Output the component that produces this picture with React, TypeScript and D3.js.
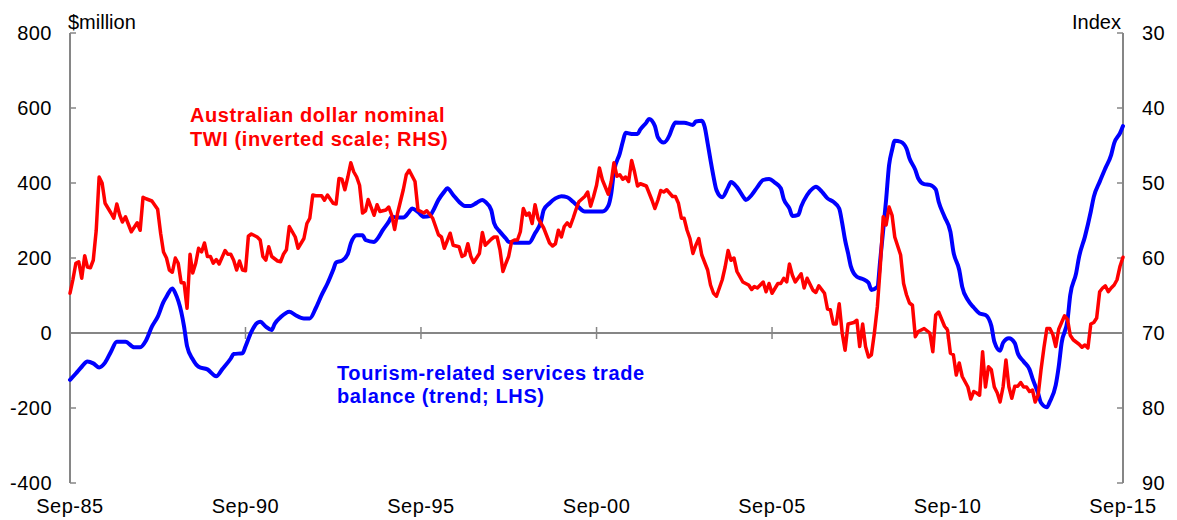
import React from "react";
import * as d3 from "d3";

// Months are counted from September 1985 (month 0) to September 2015 (month 360)
const START_YEAR = 1985;
const START_MONTH = 8;

// Tourism-related services trade balance (trend; LHS, $million)
const tourismMonths = [
  0, 2, 4, 6, 8, 10, 12, 14, 16, 19, 22, 24, 26, 28, 30, 32, 33, 35, 36, 38, 39, 40, 42, 44, 47, 50, 52, 55, 56, 59,
  60, 62, 64, 65, 67, 69, 70, 72, 75, 77, 80, 82, 84, 86, 88, 90, 91, 93, 95, 96, 98, 100, 101, 104, 105, 107, 109,
  110, 112, 114, 116, 117, 119, 121, 123, 124, 126, 128, 129, 131, 133, 135, 137, 139, 141, 142, 144, 145, 147, 149,
  150, 152, 157, 159, 161, 162, 164, 166, 168, 170, 172, 174, 176, 182, 184, 185, 186, 188, 189, 190, 192, 194, 195,
  197, 198, 200, 201, 203, 205, 206, 207, 210, 213, 214, 216, 217, 218, 219, 220, 221, 223, 225, 226, 228, 230, 231,
  233, 235, 237, 239, 241, 243, 244, 246, 247, 249, 250, 252, 254, 255, 257, 259, 261, 263, 264, 265, 266, 267, 269,
  271, 273, 274, 276, 277, 278, 279, 280, 281, 282, 284, 286, 287, 289, 290, 292, 294, 296, 297, 299, 301, 302, 304,
  305, 307, 309, 311, 313, 315, 316, 318, 319, 321, 323, 324, 326, 328, 329, 331, 332, 334, 335, 337, 338, 339, 341,
  342, 344, 345, 347, 349, 350, 352, 354, 356, 357, 359, 360,
];
const tourismValues = [
  -125, -108, -90, -76, -81, -92, -79, -50, -23, -23, -38, -38, -20, 17, 43, 83, 97, 119, 106, 57, 17, -35, -70, -90,
  -97, -115, -97, -68, -56, -54, -36, 3, 27, 30, 17, 8, 24, 42, 57, 48, 39, 39, 66, 101, 132, 168, 188, 193, 211, 239,
  261, 261, 248, 243, 250, 275, 297, 310, 308, 308, 323, 332, 323, 310, 312, 324, 355, 377, 386, 368, 350, 339, 339,
  347, 355, 350, 328, 293, 270, 252, 243, 241, 241, 266, 297, 328, 346, 359, 365, 362, 350, 335, 324, 324, 339, 372,
  430, 479, 510, 534, 531, 531, 543, 561, 571, 552, 522, 508, 528, 549, 561, 561, 555, 564, 566, 550, 506, 461, 417,
  381, 362, 389, 403, 389, 365, 355, 368, 389, 408, 411, 401, 386, 357, 332, 312, 315, 337, 368, 386, 390, 377, 359,
  350, 332, 293, 248, 213, 177, 150, 144, 134, 115, 123, 195, 275, 355, 448, 488, 513, 510, 492, 466, 435, 412, 397,
  395, 383, 350, 310, 270, 217, 168, 123, 88, 68, 52, 48, 19, -23, -47, -26, -14, -27, -54, -76, -97, -121, -161, -186,
  -198, -183, -139, -90, -27, 35, 101, 159, 203, 257, 324, 363, 403, 439, 475, 506, 533, 552,
];

// Australian dollar nominal TWI (index, plotted on inverted RHS)
const twiMonths = [
  0, 1, 2, 3, 4, 5, 6, 7, 8, 9, 10, 11, 12, 14, 15, 16, 17, 18, 19, 21, 23, 24, 25, 26, 28, 30, 31, 32, 33, 34, 35, 36,
  37, 38, 39, 40, 41, 42, 43, 44, 45, 46, 47, 48, 49, 50, 51, 53, 54, 55, 56, 57, 58, 59, 60, 61, 62, 64, 65, 66, 67,
  68, 69, 71, 72, 73, 74, 75, 77, 78, 80, 81, 82, 83, 84, 86, 87, 88, 90, 91, 92, 93, 94, 95, 96, 97, 98, 99, 100, 101,
  102, 104, 105, 106, 108, 109, 110, 111, 112, 114, 115, 116, 118, 119, 121, 122, 124, 126, 127, 128, 130, 131, 133,
  134, 135, 136, 137, 138, 140, 141, 142, 144, 145, 146, 147, 148, 149, 150, 151, 152, 153, 154, 155, 156, 157, 158,
  159, 160, 162, 164, 165, 166, 167, 168, 169, 170, 171, 172, 173, 174, 176, 177, 178, 179, 180, 181, 182, 184, 185,
  186, 187, 188, 189, 190, 191, 192, 193, 194, 195, 197, 198, 199, 200, 201, 202, 203, 204, 206, 207, 208, 209, 210,
  211, 212, 213, 214, 215, 216, 218, 219, 220, 221, 223, 224, 225, 226, 227, 228, 230, 231, 232, 233, 234, 235, 237,
  238, 239, 240, 242, 243, 244, 245, 246, 247, 248, 250, 251, 252, 254, 255, 256, 258, 259, 260, 261, 262, 263, 264,
  265, 266, 268, 269, 270, 271, 272, 273, 274, 275, 276, 277, 278, 279, 280, 281, 282, 284, 285, 286, 287, 288, 289,
  290, 292, 294, 295, 296, 297, 299, 300, 301, 302, 303, 304, 305, 307, 308, 309, 310, 311, 312, 313, 314, 315, 316,
  317, 318, 319, 320, 321, 322, 323, 324, 325, 326, 327, 328, 329, 330, 331, 332, 333, 334, 335, 336, 337, 338, 339,
  340, 341, 342, 343, 344, 345, 346, 347, 348, 349, 350, 351, 352, 353, 354, 355, 356, 357, 358, 359, 360,
];
const twiValues = [
  64.7, 62.9, 60.7, 60.5, 62.7, 59.7, 61.2, 61.3, 60.3, 56.3, 49.2, 50.0, 52.7, 54.0, 54.7, 52.8, 54.3, 55.2, 54.5,
  56.5, 55.3, 56.3, 51.9, 52.1, 52.4, 53.5, 56.7, 59.2, 60.0, 61.6, 61.9, 60.0, 60.7, 63.3, 63.3, 66.7, 59.5, 62.0,
  60.7, 58.7, 59.2, 58.0, 59.8, 59.8, 60.7, 60.2, 60.8, 59.0, 59.5, 59.5, 60.3, 61.6, 60.4, 61.6, 61.7, 57.1, 56.8,
  57.2, 57.6, 59.8, 60.3, 58.5, 59.8, 60.4, 60.5, 59.5, 58.9, 55.8, 57.2, 58.7, 57.4, 55.4, 54.7, 51.6, 51.7, 51.7,
  52.3, 51.6, 52.7, 52.8, 49.4, 49.5, 50.9, 49.2, 47.3, 48.5, 49.2, 50.3, 54.0, 53.7, 52.2, 54.3, 52.9, 53.8, 53.6,
  53.2, 54.3, 56.2, 54.0, 50.9, 48.9, 48.3, 49.8, 53.6, 54.0, 53.7, 54.7, 56.9, 57.2, 58.7, 56.7, 58.3, 58.5, 59.8,
  59.6, 58.1, 59.8, 60.6, 59.4, 56.6, 58.3, 57.5, 57.2, 57.2, 58.9, 61.8, 60.7, 59.8, 57.8, 57.6, 57.6, 56.5, 53.4,
  54.3, 54.0, 55.4, 52.9, 54.7, 56.0, 58.0, 58.4, 58.1, 56.3, 57.2, 55.8, 55.3, 55.8, 54.7, 53.5, 52.5, 51.8, 51.2,
  53.1, 51.8, 50.3, 48.0, 49.6, 51.5, 49.8, 47.3, 49.1, 48.9, 49.5, 49.2, 49.8, 47.0, 48.5, 50.4, 50.1, 50.4, 51.3,
  52.3, 53.4, 52.3, 51.0, 51.2, 50.9, 51.8, 51.8, 52.7, 54.7, 54.7, 56.3, 57.4, 59.4, 58.3, 57.4, 59.6, 61.6, 63.6,
  64.7, 65.1, 62.9, 61.2, 59.0, 60.3, 60.0, 61.8, 63.2, 63.4, 63.6, 64.2, 63.8, 64.0, 63.2, 64.5, 63.4, 64.7, 63.4,
  63.4, 62.7, 63.2, 60.8, 62.3, 63.2, 62.1, 64.0, 62.7, 64.3, 64.6, 63.7, 64.7, 66.8, 66.9, 68.8, 68.8, 66.1, 70.0,
  72.3, 68.8, 68.6, 68.3, 71.8, 68.8, 71.8, 73.2, 72.9, 70.0, 66.5, 61.2, 54.5, 55.6, 53.2, 54.3, 57.2, 59.6, 63.4,
  64.9, 66.0, 66.3, 70.5, 69.8, 69.4, 70.0, 72.5, 67.6, 67.2, 69.1, 69.6, 72.7, 72.9, 75.6, 74.0, 75.8, 77.2, 78.8,
  77.8, 78.0, 78.3, 72.5, 77.2, 74.5, 74.9, 77.2, 78.0, 79.2, 77.2, 73.6, 77.2, 78.7, 77.1, 77.1, 76.6, 77.2, 77.2,
  77.8, 77.6, 79.2, 78.3, 74.9, 71.9, 69.4, 69.4, 70.2, 71.8, 69.5, 68.6, 67.7, 68.2, 70.3, 70.9, 71.2, 71.5, 71.9,
  71.6, 72.0, 68.8, 68.6, 68.0, 64.5, 64.0, 63.7, 64.5, 64.0, 63.6, 62.9, 61.1, 59.9,
];

const leftTicks = [-400, -200, 0, 200, 400, 600, 800];
const rightTicks = [30, 40, 50, 60, 70, 80, 90];
const xTickYears = [1985, 1990, 1995, 2000, 2005, 2010, 2015];

const W = 1177;
const H = 520;
const X0 = 70;
const X1 = 1123;
const YT = 33;
const YB = 483;
const FONT = "'Liberation Sans', Arial, sans-serif";
const AXIS = "#868686";

const toDate = (m: number) => new Date(START_YEAR, START_MONTH + m, 1);

export default function App() {
  const x = d3.scaleTime().domain([toDate(0), toDate(360)]).range([X0, X1]);
  const yL = d3.scaleLinear().domain([-400, 800]).range([YB, YT]);
  const yR = d3.scaleLinear().domain([90, 30]).range([YB, YT]);
  const fmt = d3.timeFormat("%b-%y");

  const tourism = tourismMonths.map((m, i) => ({ d: toDate(m), v: tourismValues[i] }));
  const twi = twiMonths.map((m, i) => ({ d: toDate(m), v: twiValues[i] }));

  const blueLine = d3
    .line<{ d: Date; v: number }>()
    .x((p) => x(p.d))
    .y((p) => yL(p.v))
    .curve(d3.curveMonotoneX)(tourism) as string;
  const redLine = d3
    .line<{ d: Date; v: number }>()
    .x((p) => x(p.d))
    .y((p) => yR(p.v))(twi) as string;

  const zeroY = yL(0);
  const xTicks = xTickYears.map((yr) => new Date(yr, 8, 1));

  return (
    <svg
      width={W}
      height={H}
      style={{ position: "absolute", left: 0, top: 0, background: "#fff" }}
      fontFamily={FONT}
    >
      {/* axes */}
      <line x1={X0} x2={X0} y1={YT} y2={YB} stroke={AXIS} strokeWidth={2} />
      <line x1={X1} x2={X1} y1={YT} y2={YB} stroke={AXIS} strokeWidth={2} />
      <line x1={X0} x2={X1} y1={zeroY} y2={zeroY} stroke={AXIS} strokeWidth={2} />
      {leftTicks.map((t) => (
        <g key={"l" + t}>
          <line x1={X0} x2={X0 + 6} y1={yL(t)} y2={yL(t)} stroke={AXIS} strokeWidth={1.5} />
          <text x={52} y={yL(t) + 7} textAnchor="end" fontSize={20} letterSpacing={0.5} fill="#000">
            {t}
          </text>
        </g>
      ))}
      {rightTicks.map((t) => (
        <g key={"r" + t}>
          <line x1={X1 - 6} x2={X1} y1={yR(t)} y2={yR(t)} stroke={AXIS} strokeWidth={1.5} />
          <text x={1142} y={yR(t) + 7} textAnchor="start" fontSize={20} letterSpacing={0.5} fill="#000">
            {t}
          </text>
        </g>
      ))}
      {xTicks.map((d, i) => (
        <g key={"x" + i}>
          <line x1={x(d)} x2={x(d)} y1={zeroY - 6} y2={zeroY + 6} stroke={AXIS} strokeWidth={1.5} />
          <text x={x(d)} y={513} textAnchor="middle" fontSize={20} letterSpacing={0.5} fill="#000">
            {fmt(d)}
          </text>
        </g>
      ))}
      <text x={68} y={29} fontSize={20} fill="#000">
        $million
      </text>
      <text x={1121} y={29} fontSize={20} textAnchor="end" fill="#000">
        Index
      </text>

      {/* series */}
      <path d={blueLine} fill="none" stroke="#0000FF" strokeWidth={4} strokeLinejoin="round" strokeLinecap="round" />
      <path d={redLine} fill="none" stroke="#FF0000" strokeWidth={3.5} strokeLinejoin="round" strokeLinecap="round" />

      {/* annotations */}
      <text fontSize={20} fontWeight="bold" fill="#FF0000" letterSpacing={0.6}>
        <tspan x={190} y={122}>Australian dollar nominal</tspan>
        <tspan x={190} y={146}>TWI (inverted scale; RHS)</tspan>
      </text>
      <text fontSize={20} fontWeight="bold" fill="#0000FF" letterSpacing={0.6}>
        <tspan x={337} y={380}>Tourism-related services trade</tspan>
        <tspan x={337} y={403}>balance (trend; LHS)</tspan>
      </text>
    </svg>
  );
}
